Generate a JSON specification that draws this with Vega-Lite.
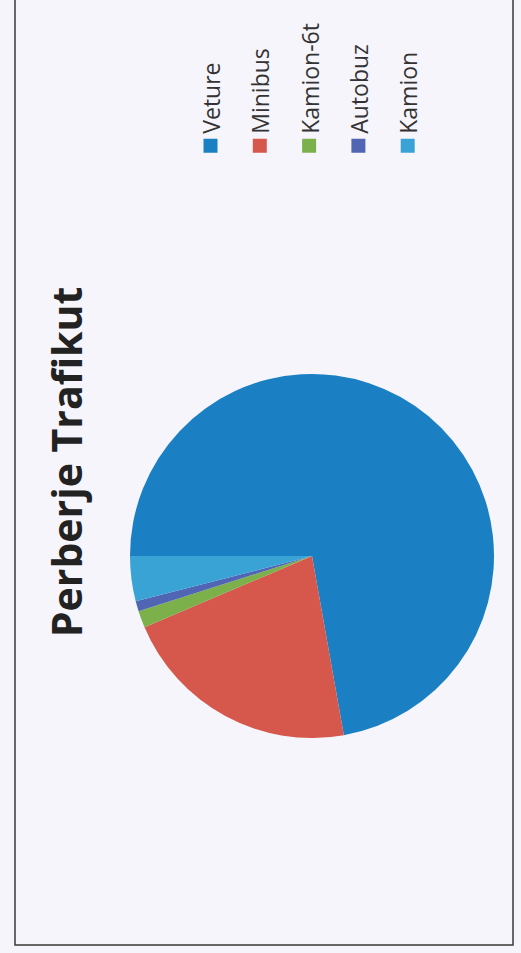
{
  "$schema": "https://vega.github.io/schema/vega-lite/v6.json",
  "width": 498,
  "height": 948,
  "autosize": {"type": "none"},
  "padding": {"left": 15, "top": -3, "right": 8, "bottom": 8},
  "background": "#f6f5fb",
  "view": {"stroke": "#3a3a3a", "strokeWidth": 1.5, "fill": "#f6f5fb"},
  "config": {
    "view": {"stroke": "#3a3a3a", "strokeWidth": 1.5},
    "font": "Open Sans"
  },
  "title": {
    "text": "Perberje Trafikut",
    "orient": "left",
    "anchor": "middle",
    "offset": -76,
    "dx": 9,
    "fontSize": 41,
    "fontWeight": "bold",
    "font": "Open Sans",
    "color": "#222222"
  },
  "data": {
    "values": [
      {"type": "Veture", "share": 72.2, "rank": 1},
      {"type": "Minibus", "share": 21.4, "rank": 2},
      {"type": "Kamion-6t", "share": 1.5, "rank": 3},
      {"type": "Autobuz", "share": 0.9, "rank": 4},
      {"type": "Kamion", "share": 4.0, "rank": 5}
    ]
  },
  "mark": {"type": "arc", "outerRadius": 182, "xOffset": 48, "yOffset": 85},
  "encoding": {
    "theta": {
      "field": "share",
      "type": "quantitative",
      "stack": true,
      "scale": {"range": [-1.5708, 4.7124]}
    },
    "order": {"field": "rank", "type": "quantitative", "sort": "ascending"},
    "color": {
      "field": "type",
      "type": "nominal",
      "sort": ["Veture", "Minibus", "Kamion-6t", "Autobuz", "Kamion"],
      "scale": {
        "domain": ["Veture", "Minibus", "Kamion-6t", "Autobuz", "Kamion"],
        "range": ["#1b80c3", "#d6574b", "#7cb04b", "#5165b5", "#3aa3d6"]
      },
      "legend": {
        "orient": "none",
        "legendX": 184,
        "legendY": 137,
        "direction": "horizontal",
        "title": null,
        "symbolType": "square",
        "symbolSize": 196,
        "symbolStrokeWidth": 0,
        "symbolOpacity": 1,
        "labelFont": "Open Sans",
        "labelFontSize": 23,
        "labelColor": "#333333",
        "labelOffset": -7,
        "columnPadding": 22.3,
        "encode": {
          "labels": {
            "update": {
              "angle": {"value": -90},
              "align": {"value": "left"},
              "baseline": {"value": "middle"},
              "dx": {"value": 12},
              "dy": {"value": -2}
            }
          }
        }
      }
    }
  }
}
